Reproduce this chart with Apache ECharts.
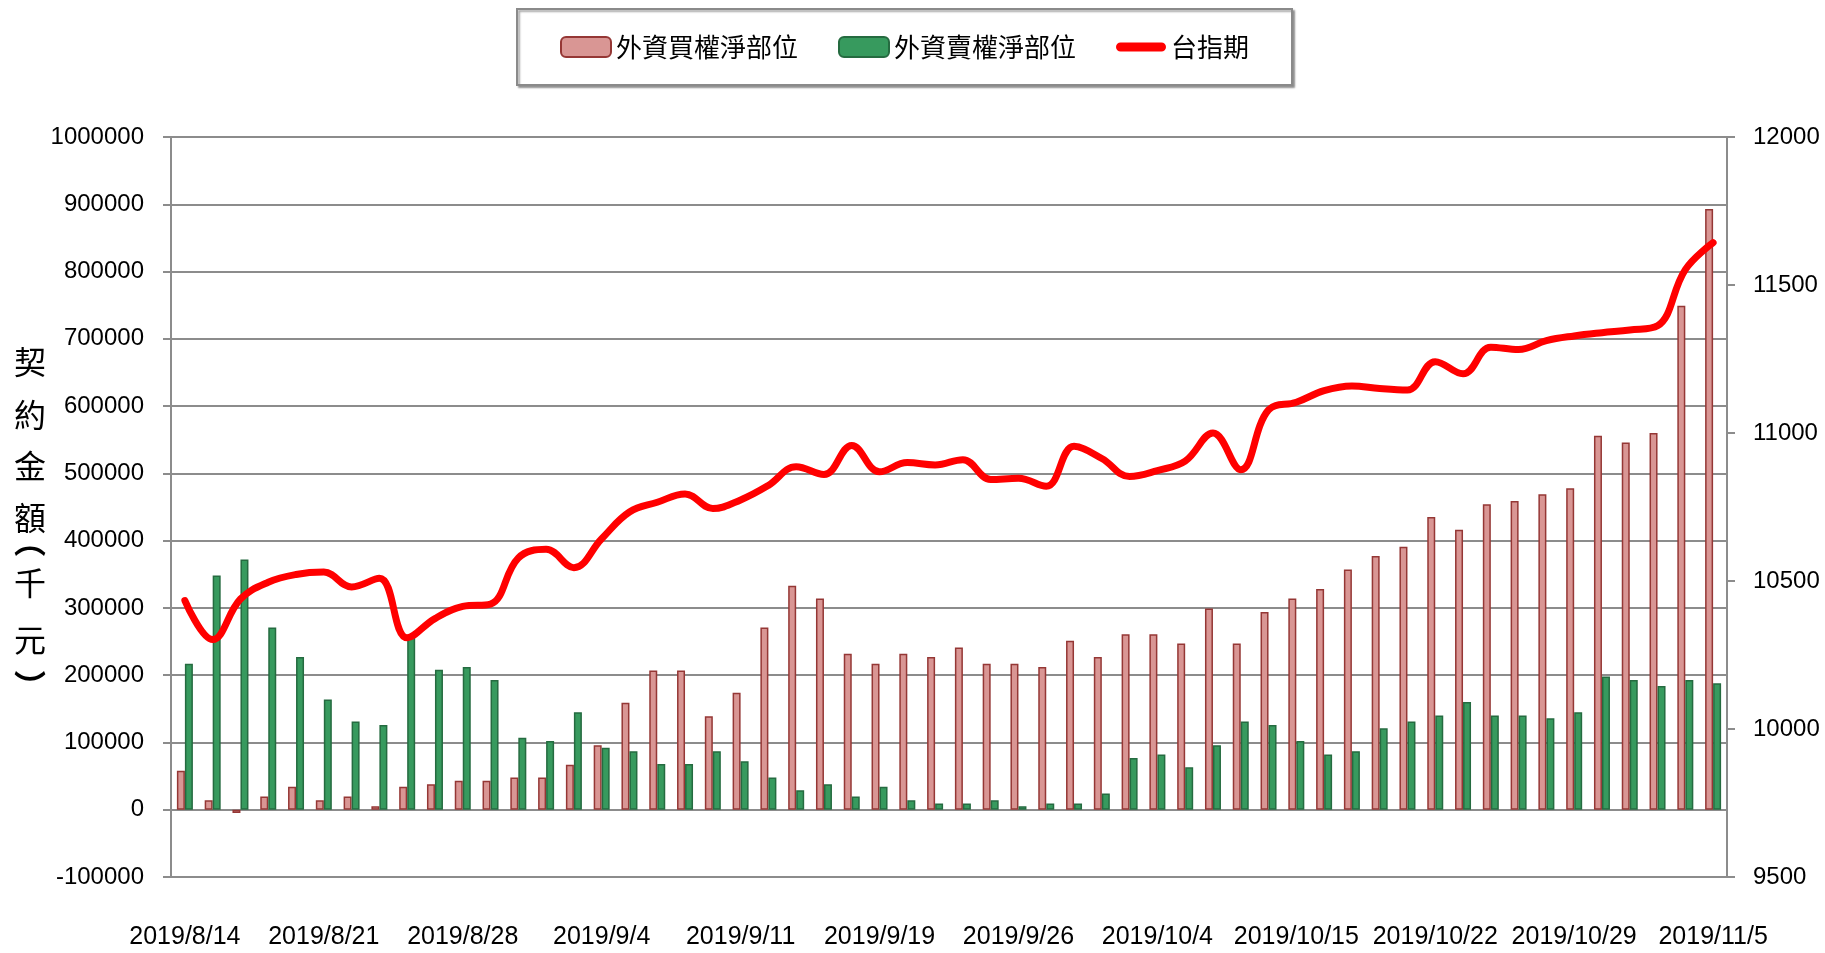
<!DOCTYPE html>
<html>
<head>
<meta charset="utf-8">
<title>外資選擇權淨部位與台指期</title>
<script src="https://cdn.jsdelivr.net/npm/echarts@6/dist/echarts.min.js"></script>
<style>
  html, body { margin: 0; padding: 0; background: #fff; }
  #chart { width: 1825px; height: 953px; }
</style>
</head>
<body>
<div id="chart"></div>
<script>
"use strict";

// trading days, 2019/8/14 - 2019/11/5
var dates = ['2019/8/14','2019/8/15','2019/8/16','2019/8/19','2019/8/20','2019/8/21','2019/8/22','2019/8/23',
    '2019/8/26','2019/8/27','2019/8/28','2019/8/29','2019/8/30','2019/9/2','2019/9/3','2019/9/4','2019/9/5',
    '2019/9/6','2019/9/9','2019/9/10','2019/9/11','2019/9/12','2019/9/16','2019/9/17','2019/9/18','2019/9/19',
    '2019/9/20','2019/9/23','2019/9/24','2019/9/25','2019/9/26','2019/9/27','2019/10/1','2019/10/2','2019/10/3',
    '2019/10/4','2019/10/7','2019/10/8','2019/10/9','2019/10/14','2019/10/15','2019/10/16','2019/10/17',
    '2019/10/18','2019/10/21','2019/10/22','2019/10/23','2019/10/24','2019/10/25','2019/10/28','2019/10/29',
    '2019/10/30','2019/10/31','2019/11/1','2019/11/4','2019/11/5'];

// 外資買權淨部位 (千元)
var callNet = [58000, 14000, -5000, 19500, 34000, 14000, 19500, 5000, 34000, 38000, 43000, 43000, 48000, 48000,
    67000, 96000, 159000, 207000, 207000, 139000, 174000, 271000, 333000, 314000, 232000, 217000, 232000, 227000,
    241000, 217000, 217000, 212000, 251000, 227000, 261000, 261000, 247000, 299000, 247000, 294000, 314000, 328000,
    357000, 377000, 391000, 435000, 416000, 454000, 459000, 469000, 478000, 556000, 546000, 560000, 749000, 893000];

// 外資賣權淨部位 (千元)
var putNet = [217000, 348000, 372000, 271000, 227000, 164000, 131000, 126000, 260000, 208000, 212000, 193000, 107000, 102000,
    145000, 92000, 87000, 68000, 68000, 87000, 72000, 48000, 29000, 38000, 19500, 34000, 14000, 9400,
    9400, 14000, 5000, 9400, 9400, 24000, 77000, 82000, 63000, 96000, 131000, 126000, 102000, 82000,
    87000, 121000, 131000, 140000, 160000, 140000, 140000, 136000, 145000, 198000, 193000, 184000, 193000, 188000];

// 台指期
var txf = [10434, 10302, 10439, 10496, 10522, 10530, 10480, 10509, 10308, 10373, 10414, 10422, 10578, 10607,
    10545, 10643, 10733, 10766, 10794, 10745, 10774, 10823, 10886, 10860, 10958, 10869, 10900, 10892,
    10910, 10843, 10847, 10820, 10955, 10914, 10853, 10873, 10905, 11000, 10876, 11078, 11104, 11143,
    11159, 11150, 11145, 11241, 11200, 11290, 11282, 11312, 11328, 11339, 11348, 11362, 11552, 11643];

var seriesNames = ['外資買權淨部位', '外資賣權淨部位', '台指期'];
// vertical axis title, one glyph per line, with the y where each sits
var yAxisTitle = ['契', '約', '金', '額', '︵', '千', '元', '︶'];
var yAxisTitleY = [362, 415, 466, 518, 541, 583, 640, 686];

var numFont = "'Liberation Sans', Arial, sans-serif";
var cjkFont = "'Noto Sans CJK TC', 'Noto Sans CJK SC', sans-serif";
var gridGray = '#8c8c8c';

var chart = echarts.init(document.getElementById('chart'));

var titleGlyphs = yAxisTitle.map(function (c, i) {
    return {
        type: 'text',
        x: 30,
        y: yAxisTitleY[i],
        style: {
            text: c,
            fill: '#000',
            align: 'center',
            verticalAlign: 'middle',
            fontFamily: cjkFont,
            fontSize: 32,
            fontWeight: (c === '︵' || c === '︶') ? 'bold' : 'normal'
        }
    };
});

function plain(v) {
    return String(v);
}

var option = {
    animation: false,
    backgroundColor: '#fff',
    legend: {
        data: [
            { name: seriesNames[0] },
            { name: seriesNames[1] },
            { name: seriesNames[2], icon: 'path://M5,0 L50,0 A5,5 0 0 1 50,10 L5,10 A5,5 0 0 1 5,0 Z' }
        ],
        left: 517,
        top: 9,
        padding: [25, 43, 25, 43],
        itemGap: 40,
        itemWidth: 50,
        itemHeight: 20,
        borderColor: '#8a8a8a',
        borderWidth: 2,
        backgroundColor: '#fff',
        shadowColor: 'rgba(0,0,0,0.35)',
        shadowBlur: 2,
        shadowOffsetX: 2,
        shadowOffsetY: 2,
        textStyle: {
            fontFamily: cjkFont,
            fontSize: 26,
            color: '#000'
        }
    },
    graphic: [{
        type: 'group',
        children: titleGlyphs
    }],
    grid: {
        left: 171,
        right: 98,
        top: 137,
        bottom: 76,
        outerBoundsMode: 'none'
    },
    xAxis: {
        type: 'category',
        data: dates,
        boundaryGap: true,
        axisLine: { show: true, lineStyle: { color: gridGray, width: 2 } },
        axisTick: { show: false },
        axisLabel: {
            interval: 4,
            margin: 48,
            showMaxLabel: true,
            fontFamily: numFont,
            fontSize: 25,
            color: '#000'
        }
    },
    yAxis: [{
        type: 'value',
        min: -100000,
        max: 1000000,
        interval: 100000,
        axisLine: { show: true, lineStyle: { color: gridGray, width: 2 } },
        axisTick: { show: true, length: 8, lineStyle: { color: gridGray, width: 2 } },
        splitLine: { show: true, lineStyle: { color: gridGray, width: 2 } },
        axisLabel: {
            margin: 27,
            formatter: plain,
            fontFamily: numFont,
            fontSize: 24,
            color: '#000'
        }
    }, {
        type: 'value',
        position: 'right',
        min: 9500,
        max: 12000,
        interval: 500,
        axisLine: { show: true, lineStyle: { color: gridGray, width: 2 } },
        axisTick: { show: true, length: 8, lineStyle: { color: gridGray, width: 2 } },
        splitLine: { show: false },
        axisLabel: {
            margin: 26,
            formatter: plain,
            fontFamily: numFont,
            fontSize: 24,
            color: '#000'
        }
    }],
    series: [{
        name: seriesNames[0],
        type: 'bar',
        data: callNet,
        barWidth: 8,
        barGap: '0%',
        itemStyle: {
            color: '#d99694',
            borderColor: '#953735',
            borderWidth: 1.5
        }
    }, {
        name: seriesNames[1],
        type: 'bar',
        data: putNet,
        barWidth: 8,
        barGap: '0%',
        itemStyle: {
            color: '#379a5e',
            borderColor: '#256b40',
            borderWidth: 1.5
        }
    }, {
        name: seriesNames[2],
        type: 'line',
        yAxisIndex: 1,
        data: txf,
        smooth: 0.4,
        symbol: 'none',
        itemStyle: { color: '#ff0000' },
        lineStyle: { color: '#ff0000', width: 7, cap: 'round', join: 'round' },
        z: 5
    }]
};

chart.setOption(option);
window.addEventListener('resize', function () {
    chart.resize();
});
</script>
</body>
</html>
